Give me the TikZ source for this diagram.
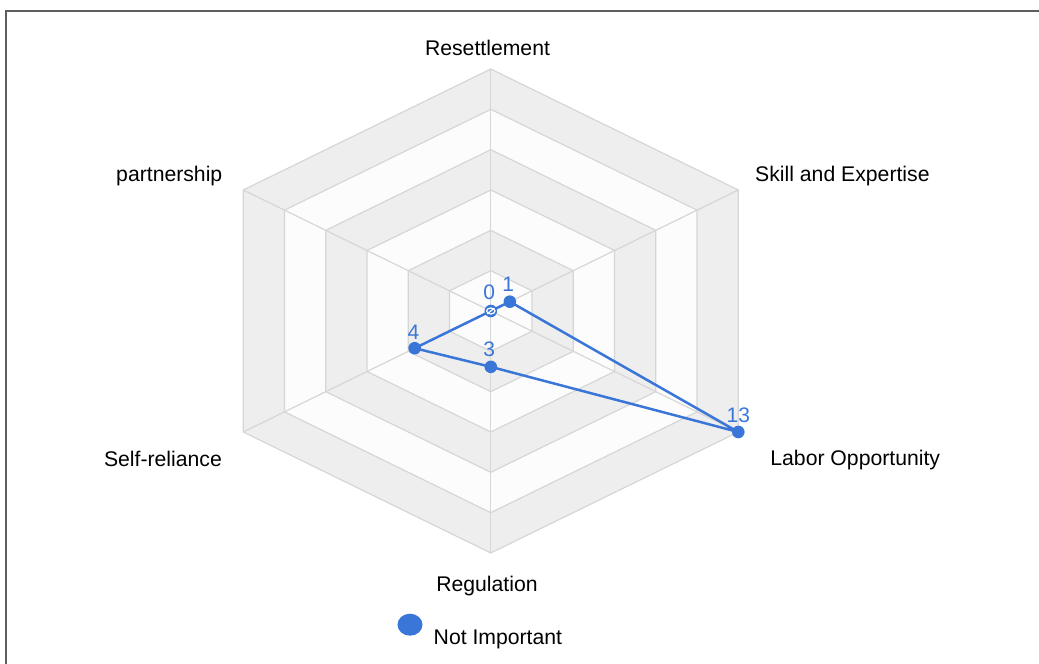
\documentclass[tikz,border=0pt]{standalone}
\usepackage{fontspec}
\setmainfont{Liberation Sans}
\usetikzlibrary{calc}
\definecolor{chartblue}{HTML}{3A76D8}
\definecolor{ringgray}{HTML}{EEEEEE}
\definecolor{ringwhite}{HTML}{FCFCFC}
\definecolor{gridline}{HTML}{D6D6D6}
\definecolor{framegray}{HTML}{5E5E5E}

\begin{document}
\begin{tikzpicture}[x=0.5pt,y=0.5pt,
    axislabel/.style={font=\fontsize{10.6}{12}\selectfont, text=black, inner sep=0pt},
    vallabel/.style={font=\fontsize{10.5}{12}\selectfont, text=chartblue, inner sep=0pt, anchor=base},
    dataline/.style={draw=chartblue, line width=1.25pt, line join=round},
    gridstroke/.style={draw=gridline, line width=0.6pt}]
    \useasboundingbox (-490.8,-353) rectangle (548.2,311);
    \draw[framegray, line width=0.9pt] (-485,-353) -- (-485,300.3) -- (548.2,300.3);
    \def\hexring#1{(0,#1*40.33) -- (#1*41.25,#1*20.17) -- (#1*41.25,-#1*20.17) -- (0,-#1*40.33) -- (-#1*41.25,-#1*20.17) -- (-#1*41.25,#1*20.17) -- cycle}
    \foreach \r/\c in {6/ringgray,5/ringwhite,4/ringgray,3/ringwhite,2/ringgray,1/ringwhite}
        \filldraw[fill=\c, gridstroke] \hexring{\r};
    \coordinate (c) at (0,0);
    \coordinate (vR) at (0,242);
    \coordinate (vS) at (247.5,121);
    \coordinate (vL) at (247.5,-121);
    \coordinate (vG) at (0,-242);
    \coordinate (vF) at (-247.5,-121);
    \coordinate (vP) at (-247.5,121);
    \foreach \v in {vR,vS,vL,vG,vF,vP}
        \draw[gridstroke] (c) -- (\v);
    \coordinate (pR) at ($(c)!0/13!(vR)$);
    \coordinate (pS) at ($(c)!1/13!(vS)$);
    \coordinate (pL) at ($(c)!13/13!(vL)$);
    \coordinate (pG) at ($(c)!3/13!(vG)$);
    \coordinate (pF) at ($(c)!4/13!(vF)$);
    \coordinate (pP) at ($(c)!0/13!(vP)$);
    \draw[dataline] (pR) -- (pS) -- (pL) -- (pG) -- (pF) -- (pP) -- cycle;
    \foreach \p in {pS,pL,pG,pF,pR}
        \fill[chartblue] (\p) circle (6.3);
    \draw[white, line width=0.6pt] (pR) ellipse (4.2 and 3);
    \draw[white, line width=0.6pt] ([shift={(-3.5,-2.8)}]pR) -- ([shift={(3.5,2.8)}]pR);
    \node[vallabel] (nR) at ([shift={(-1.5,11)}]pR) {0};
    \node[vallabel] (nS) at ([shift={(-1.5,10)}]pS) {1};
    \node[vallabel] (nL) at ([shift={(0,9)}]pL) {13};
    \node[vallabel] (nG) at ([shift={(-1.5,10.8)}]pG) {3};
    \node[vallabel] (nF) at ([shift={(-1.3,9)}]pF) {4};
    \node[axislabel, anchor=base] (tR) at (-3.3,255.5) {Resettlement};
    \node[axislabel, anchor=base west] (tS) at (264,129.5) {Skill and Expertise};
    \node[axislabel, anchor=base west] (tL) at (279.2,-154.7) {Labor Opportunity};
    \node[axislabel, anchor=base] (tG) at (-3.8,-280.7) {Regulation};
    \node[axislabel, anchor=base east] (tF) at (-268.5,-155) {Self-reliance};
    \node[axislabel, anchor=base east] (tP) at (-268.1,129.3) {partnership};
    \coordinate (key) at (-80.8,-313.7);
    \fill[chartblue] (key) ellipse (12.5 and 11);
    \node[axislabel, anchor=base west] (tKey) at (-57.5,-333) {Not Important};
\end{tikzpicture}
\end{document}
